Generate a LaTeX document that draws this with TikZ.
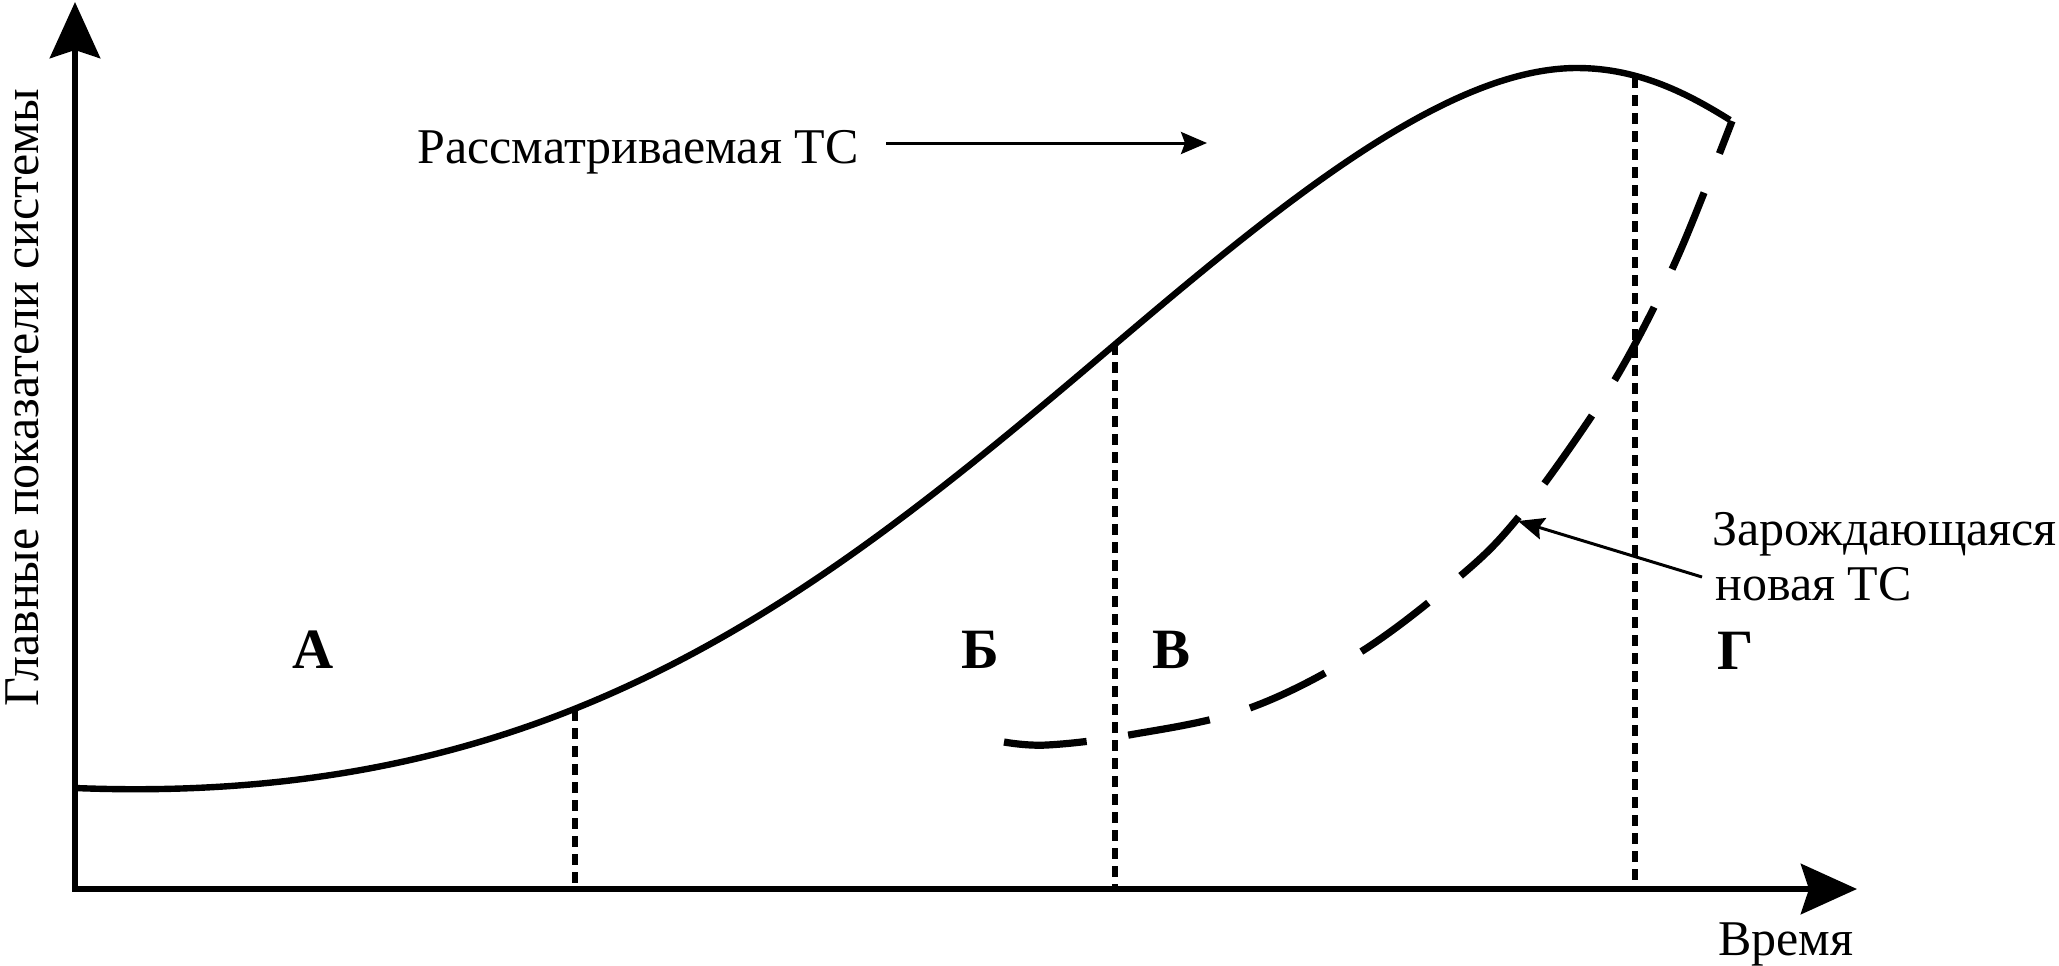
\documentclass[tikz,border=0pt]{standalone}
\usepackage{fontspec}
\IfFontExistsTF{LiberationSerif-Regular.ttf}
  {\setmainfont{LiberationSerif}[Extension=.ttf,UprightFont=*-Regular,BoldFont=*-Bold,ItalicFont=*-Italic,BoldItalicFont=*-BoldItalic]}
  {\setmainfont{Liberation Serif}}
\usetikzlibrary{arrows.meta}
\begin{document}
\begin{tikzpicture}[x=0.5pt,y=-0.5pt,
  axis/.style={line width=3.4pt, line join=miter,
    {Stealth[length=28pt,width=25pt,inset=4pt]}-{Stealth[length=28pt,width=25pt,inset=4pt]}},
  maincurve/.style={line width=3.2pt},
  newcurve/.style={line width=3.6pt, dash pattern=on 41.5pt off 21pt},
  divider/.style={line width=2.6pt, dash pattern=on 5.5pt off 3.5pt},
  pointer/.style={line width=1.5pt, -{Stealth[length=13pt,width=11pt,inset=2pt]}},
  txt/.style={font=\fontsize{25}{29}\selectfont, inner sep=0pt, anchor=base west},
  stage/.style={font=\fontsize{28.5}{32}\selectfont\bfseries, inner sep=0pt, anchor=base west}]

\useasboundingbox (0,0) rectangle (2059,965);

% coordinates
\coordinate (O) at (75,889);
\coordinate (ytip) at (75,2);
\coordinate (xtip) at (1857,889);
\coordinate (d1t) at (575,710);  \coordinate (d1b) at (575,886);
\coordinate (d2t) at (1115,344); \coordinate (d2b) at (1115,886);
\coordinate (d3t) at (1635,77);  \coordinate (d3b) at (1635,886);
\coordinate (oldtail) at (886,143);
\coordinate (oldtip) at (1207,143);
\coordinate (newtail) at (1702,577);
\coordinate (newtip) at (1518,521);
\coordinate (cA) at (75,788);
\coordinate (cP) at (1113,346);
\coordinate (cQ) at (1577,68);
\coordinate (cE) at (1730,120);

% dividers
\draw[divider] (d1t) -- (d1b);
\draw[divider] (d2t) -- (d2b);
\draw[divider] (d3t) -- (d3b);

% main S-curve
\draw[maincurve] (cA) .. controls (555,807) and (813,601) .. (cP)
  .. controls (1283,201.5) and (1447,68) .. (cQ)
  .. controls (1640,68) and (1690,95) .. (cE);

% emerging curve
\draw[newcurve] plot[smooth, tension=0.6] coordinates {
  (1004,742) (1047,745) (1129,735) (1247,709) (1359,653) (1458,578)
  (1517,519) (1589,420) (1635,344) (1681,249) (1732,121)};

% axes
\draw[axis] (ytip) -- (O) -- (xtip);

% labels
\node[txt] (lblold) at (417,163) {Рассматриваемая ТС};
\node[txt] (lblnew1) at (1712,545) {Зарождающаяся};
\node[txt] (lblnew2) at (1715,600) {новая ТС};
\node[txt] (time) at (1718,955) {Время};
\node[txt, rotate=90, anchor=base] (ylab) at (38,398) {Главные показатели системы};

\node[stage] (sA) at (292,668) {А};
\node[stage] (sB) at (961,668) {Б};
\node[stage] (sV) at (1152,668) {В};
\node[stage] (sG) at (1717,669) {Г};

% pointers
\draw[pointer] (oldtail) -- (oldtip);
\draw[pointer] (newtail) -- (newtip);
\end{tikzpicture}
\end{document}
